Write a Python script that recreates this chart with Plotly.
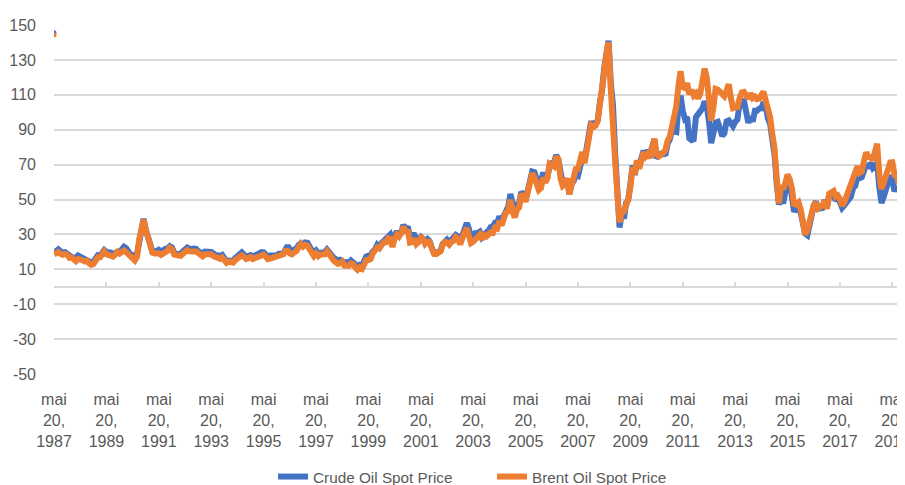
import plotly.graph_objects as go
import pandas as pd

# Monthly values (20th of each month), May 1987 .. Nov 2019
START_MONTH = "1987-05-01"

WTI_PRICE = [
    19.4, 20.0, 21.4, 20.3, 19.5, 19.8, 18.9, 17.3,
    17.1, 16.7, 16.2, 17.9, 17.4, 16.5, 15.5, 15.5, 14.5, 13.8, 14.0, 16.3,
    18.0, 17.8, 19.4, 21.0, 20.0, 20.0, 19.6, 18.5, 19.6, 20.1, 19.8, 21.1,
    22.9, 22.1, 20.4, 18.4, 18.2, 16.9, 18.6, 27.2, 33.7, 39.0, 32.3, 27.3,
    25.2, 20.5, 19.9, 20.8, 21.2, 20.2, 21.4, 21.7, 21.9, 23.2, 22.5, 19.5,
    18.8, 19.0, 18.9, 20.2, 20.9, 22.4, 21.8, 21.4, 21.9, 21.7, 20.3, 19.4,
    19.1, 20.1, 20.3, 20.3, 19.9, 19.1, 17.9, 18.0, 17.5, 18.2, 16.7, 14.5,
    15.0, 14.8, 14.7, 16.4, 17.9, 19.1, 19.7, 18.4, 17.5, 17.7, 18.1, 17.2,
    18.0, 18.5, 18.6, 19.9, 19.7, 18.4, 17.3, 17.9, 18.0, 17.4, 18.0, 19.0,
    18.9, 19.1, 21.3, 23.5, 21.2, 20.4, 21.3, 21.9, 23.9, 24.9, 23.7, 25.4,
    25.2, 22.2, 21.0, 19.7, 20.8, 19.2, 19.6, 19.9, 19.8, 21.3, 20.2, 18.3,
    16.7, 16.1, 15.0, 15.4, 14.9, 13.7, 14.2, 13.5, 15.0, 14.4, 12.9, 11.3,
    12.5, 12.0, 14.7, 17.3, 17.8, 17.9, 20.1, 21.3, 23.9, 22.6, 25.0, 26.1,
    27.3, 29.4, 29.9, 25.7, 28.8, 31.8, 29.7, 31.3, 35.5, 33.1, 34.4, 28.5,
    29.6, 29.6, 27.2, 27.4, 28.6, 27.6, 26.4, 27.4, 26.2, 22.2, 19.6, 19.3,
    19.7, 20.7, 24.4, 26.2, 27.0, 25.5, 26.9, 28.4, 29.7, 28.9, 26.3, 29.4,
    32.9, 36.5, 33.6, 28.3, 28.1, 30.7, 30.8, 31.6, 28.3, 30.3, 31.1, 32.1,
    34.3, 34.7, 36.7, 36.7, 40.3, 38.0, 40.7, 44.9, 45.9, 53.1, 48.5, 43.3,
    46.8, 48.1, 54.2, 53.0, 49.8, 56.4, 59.0, 66.0, 65.6, 62.3, 58.3, 59.4,
    65.5, 61.6, 62.7, 69.4, 70.8, 70.9, 75.5, 73.0, 63.8, 58.9, 59.1, 62.0,
    53.0, 59.3, 60.4, 64.0, 63.5, 67.5, 74.1, 72.4, 79.9, 85.8, 94.8, 91.7,
    93.0, 95.4, 105.5, 112.6, 125.4, 135.0, 141.0, 116.7, 104.1, 76.6, 57.3, 34.0,
    41.7, 39.1, 47.9, 49.7, 59.0, 69.6, 64.1, 71.0, 69.4, 75.7, 78.0, 74.5,
    78.3, 76.4, 81.2, 84.3, 73.7, 75.3, 76.3, 76.6, 75.2, 81.9, 84.3, 89.2,
    89.2, 88.6, 102.9, 109.5, 100.9, 96.3, 97.3, 85.0, 84.0, 84.5, 97.2, 98.6,
    100.3, 102.2, 106.2, 103.3, 94.7, 82.3, 87.9, 94.1, 94.5, 89.5, 86.5, 87.9,
    94.8, 95.3, 92.9, 92.0, 94.5, 95.8, 104.6, 106.6, 106.3, 100.5, 93.9, 97.6,
    94.6, 100.8, 100.8, 102.1, 102.2, 105.8, 103.6, 96.5, 93.2, 84.4, 75.8, 59.3,
    47.2, 50.6, 47.8, 54.5, 59.3, 59.8, 50.9, 42.9, 45.5, 46.2, 42.4, 37.2,
    30.5, 29.5, 37.6, 40.8, 46.7, 48.8, 44.7, 44.7, 45.2, 49.8, 45.7, 52.0,
    52.5, 53.5, 49.3, 51.1, 48.5, 45.2, 46.6, 48.0, 49.8, 51.6, 56.6, 57.9,
    63.7, 62.2, 62.7, 66.3, 70.0, 67.9, 71.0, 68.1, 70.2, 70.8, 57.0, 48.0,
    51.4, 55.0, 58.2, 63.9, 60.8, 54.7, 57.4, 54.8, 57.0, 54.0, 56.0,
]

BRENT_PRICE = [
    18.6, 18.9, 19.9, 18.8, 18.3, 18.8, 18.2, 16.6,
    16.8, 15.7, 14.7, 16.0, 16.0, 15.2, 14.5, 14.9, 13.4, 12.5, 13.0, 15.5,
    16.9, 16.9, 18.7, 20.3, 18.6, 17.9, 18.0, 17.3, 18.4, 19.9, 19.0, 20.0,
    20.8, 19.8, 18.4, 16.6, 16.3, 15.1, 17.2, 27.2, 34.9, 38.5, 32.8, 27.3,
    23.6, 19.5, 19.1, 19.2, 19.2, 18.3, 19.5, 19.8, 20.6, 22.3, 21.5, 18.5,
    18.2, 18.0, 17.7, 18.9, 19.9, 21.0, 20.3, 19.8, 20.2, 20.3, 19.1, 18.2,
    17.4, 18.6, 18.8, 18.7, 18.6, 17.6, 16.8, 16.9, 16.0, 16.8, 15.2, 13.7,
    14.4, 13.9, 13.8, 15.3, 16.3, 16.9, 18.0, 17.2, 15.9, 16.4, 17.0, 15.9,
    16.6, 17.2, 17.0, 18.6, 18.4, 17.3, 15.8, 16.1, 16.5, 16.3, 17.0, 17.9,
    18.1, 18.6, 20.5, 20.6, 19.1, 18.6, 19.7, 20.5, 22.6, 24.4, 23.0, 24.0,
    23.5, 20.8, 19.2, 17.6, 19.2, 17.6, 18.5, 18.6, 18.6, 20.3, 19.1, 17.0,
    15.1, 14.0, 13.2, 13.4, 14.4, 12.1, 12.1, 12.0, 13.4, 13.0, 11.0, 9.8,
    11.1, 10.3, 12.5, 15.3, 15.3, 15.9, 19.1, 20.3, 22.5, 22.1, 24.6, 25.5,
    25.5, 27.8, 27.5, 22.8, 27.6, 29.8, 28.7, 30.7, 34.5, 30.9, 32.6, 25.3,
    25.6, 27.5, 24.5, 25.7, 28.1, 27.5, 24.5, 25.7, 25.6, 20.5, 18.8, 18.7,
    19.4, 20.3, 23.7, 25.7, 25.4, 24.1, 25.7, 26.3, 28.4, 27.5, 24.3, 28.3,
    31.2, 33.5, 30.3, 25.0, 25.8, 27.6, 28.4, 29.8, 27.1, 29.6, 28.8, 29.8,
    31.2, 30.9, 33.8, 33.4, 37.6, 35.2, 38.2, 42.7, 43.2, 49.8, 43.1, 39.7,
    44.3, 45.5, 53.1, 51.9, 48.7, 54.3, 57.5, 65.0, 62.9, 58.5, 55.4, 56.5,
    62.5, 59.7, 62.1, 70.4, 70.0, 68.9, 74.5, 73.2, 61.9, 57.8, 58.8, 62.1,
    53.0, 57.6, 62.1, 67.4, 67.5, 71.3, 77.2, 70.8, 77.1, 82.3, 92.5, 91.5,
    92.2, 95.0, 103.6, 109.1, 122.8, 134.0, 140.0, 113.2, 97.2, 71.6, 52.5, 37.0,
    43.4, 43.3, 46.5, 50.2, 57.3, 68.6, 64.4, 72.5, 67.7, 73.2, 77.0, 74.7,
    76.2, 73.8, 78.8, 84.8, 76.0, 74.8, 75.6, 77.1, 78.2, 83.5, 86.1, 91.5,
    96.5, 103.7, 114.6, 123.5, 114.5, 113.9, 116.7, 110.2, 112.8, 109.6, 110.8, 107.9,
    110.7, 119.3, 125.0, 119.8, 110.3, 95.2, 102.6, 113.4, 113.0, 111.5, 109.5, 109.2,
    112.3, 116.1, 108.5, 102.3, 102.6, 102.9, 107.9, 111.3, 111.6, 109.1, 107.8, 110.8,
    108.1, 108.9, 107.5, 107.8, 109.5, 111.8, 106.8, 101.6, 97.1, 87.4, 79.4, 62.3,
    47.8, 58.1, 55.9, 59.5, 64.3, 61.5, 56.6, 46.5, 47.6, 48.4, 44.3, 38.0,
    30.0, 32.2, 38.2, 41.6, 46.7, 48.3, 44.9, 45.8, 46.6, 49.5, 44.7, 53.3,
    54.6, 54.9, 51.6, 52.3, 50.3, 46.4, 48.5, 51.7, 56.2, 57.5, 62.7, 64.4,
    69.1, 65.3, 66.0, 72.1, 77.0, 74.4, 74.3, 72.5, 78.9, 82.0, 64.8, 56.0,
    59.4, 64.0, 66.1, 71.2, 71.3, 64.2, 63.9, 59.0, 62.8, 59.7, 63.2,
]

# stray first point visible at the top-left corner of the plot
OUTLIER_DATE = "1987-05-20"
OUTLIER_WTI = 145.6
OUTLIER_BRENT = 144.3

Y_TICKS = list(range(-50, 151, 20))
Y_TICK_TEXT = [str(v) for v in Y_TICKS]   # plain hyphen minus, as in the original

TICK_YEARS = list(range(1987, 2021, 2))
TICK_DATES = [f"{y}-05-20" for y in TICK_YEARS]
TICK_TEXT = [f"mai<br>20,<br>{y}" for y in TICK_YEARS]

X_RANGE = ["1987-05-20", "2019-11-13"]

assert len(WTI_PRICE) == len(BRENT_PRICE)
dates = pd.date_range(START_MONTH, periods=len(WTI_PRICE), freq="MS") + pd.Timedelta(days=19)

BLUE = "#4472C4"
ORANGE = "#ED7D31"
GRID = "#d9d9d9"
TEXT = "#595959"
FONT = "Liberation Sans"

fig = go.Figure()
fig.add_trace(go.Scatter(x=dates, y=WTI_PRICE, mode="lines", name="Crude Oil Spot Price",
                         line=dict(color=BLUE, width=6)))
fig.add_trace(go.Scatter(x=dates, y=BRENT_PRICE, mode="lines", name="Brent Oil Spot Price",
                         line=dict(color=ORANGE, width=6)))
fig.add_trace(go.Scatter(x=[OUTLIER_DATE], y=[OUTLIER_WTI], mode="markers", xaxis="x2",
                         marker=dict(color=BLUE, size=5), showlegend=False, hoverinfo="skip"))
fig.add_trace(go.Scatter(x=[OUTLIER_DATE], y=[OUTLIER_BRENT], mode="markers", xaxis="x2",
                         marker=dict(color=ORANGE, size=5), showlegend=False, hoverinfo="skip"))

# the page puts the figure 8px from the top-left corner of the window
fig.update_layout(
    width=897, height=477,
    margin=dict(l=46, r=0, t=17, b=111, autoexpand=False),
    paper_bgcolor="white", plot_bgcolor="white",
    font=dict(family=FONT, size=16, color=TEXT),
    xaxis=dict(type="date", range=X_RANGE, tickvals=TICK_DATES, ticktext=TICK_TEXT,
               showgrid=False, showline=False, zeroline=False, ticks="",
               ticklabeloverflow="allow", automargin=False,
               tickfont=dict(family=FONT, size=16, color=TEXT), ticklabelstandoff=14),
    xaxis2=dict(type="date", range=X_RANGE, overlaying="x", anchor="free", position=0.25,
                tickvals=TICK_DATES, showticklabels=False, showgrid=False, zeroline=False,
                showline=True, linecolor=GRID, linewidth=1.5,
                ticks="inside", ticklen=4, tickwidth=1.5, tickcolor=GRID),
    yaxis=dict(range=[-50, 150], tickvals=Y_TICKS, ticktext=Y_TICK_TEXT, showgrid=True,
               gridcolor=GRID, gridwidth=1.5, zeroline=False, showline=False, ticks="",
               automargin=False,
               tickfont=dict(family=FONT, size=16, color=TEXT), ticklabelstandoff=17),
    legend=dict(orientation="h", x=0.2574, xanchor="left", y=-0.294, yanchor="middle",
                entrywidth=174, entrywidthmode="pixels",
                font=dict(family=FONT, size=15.3, color=TEXT), bgcolor="rgba(0,0,0,0)"),
    showlegend=True,
)

fig.write_html("out.html")
